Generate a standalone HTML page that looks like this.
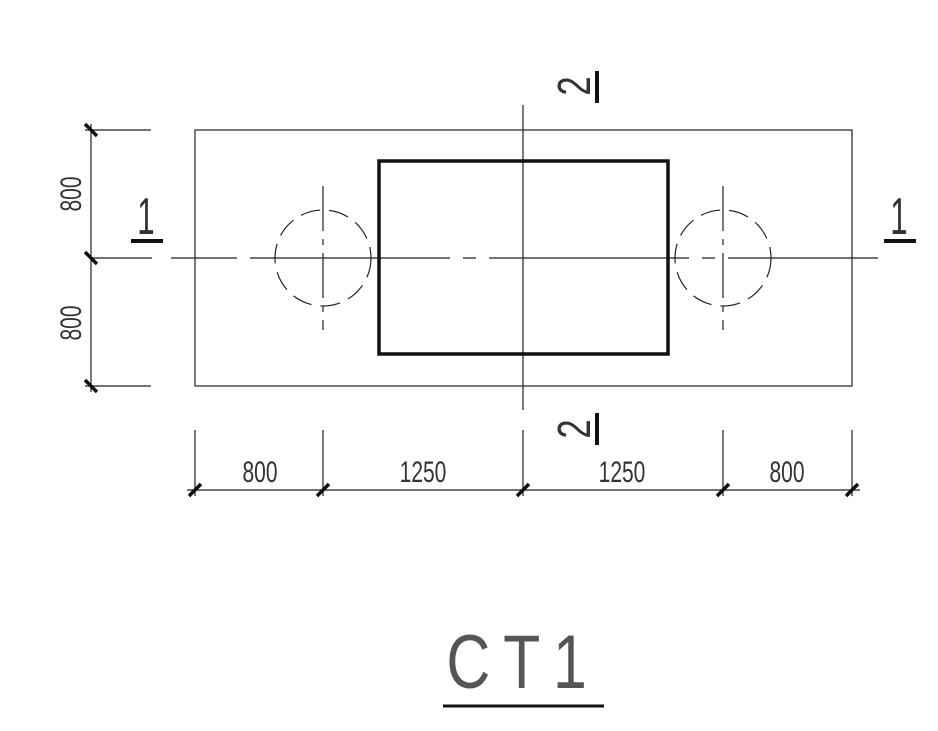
<!DOCTYPE html>
<html><head><style>html,body{margin:0;padding:0;background:#fff}svg{display:block}
text{font-family:"Liberation Sans",sans-serif;fill:#333}</style></head><body>
<svg width="938" height="731" viewBox="0 0 938 731" xmlns="http://www.w3.org/2000/svg">
<g stroke="#222" fill="none" stroke-width="1.2">
<rect x="195" y="130" width="657" height="256"/>
<line x1="523" y1="105" x2="523" y2="410"/>
<line x1="91" y1="258" x2="152" y2="258"/>
<line x1="171" y1="258" x2="237" y2="258"/>
<line x1="250" y1="258" x2="878" y2="258" stroke-dasharray="200 13 13 13"/>
<circle cx="323" cy="258" r="48" stroke-dasharray="20 9"/>
<circle cx="723" cy="258" r="48" stroke-dasharray="20 9"/>
<line x1="323" y1="186" x2="323" y2="330" stroke-dasharray="45 8 6 8"/>
<line x1="723" y1="186" x2="723" y2="330" stroke-dasharray="45 8 6 8"/>
<line x1="91" y1="124" x2="91" y2="392"/>
<line x1="85" y1="130" x2="151" y2="130"/>
<line x1="85" y1="386" x2="151" y2="386"/>
<line x1="187" y1="490" x2="860" y2="490"/>
<line x1="195" y1="430" x2="195" y2="496"/>
<line x1="323" y1="430" x2="323" y2="496"/>
<line x1="523" y1="430" x2="523" y2="496"/>
<line x1="723" y1="430" x2="723" y2="496"/>
<line x1="852" y1="430" x2="852" y2="496"/>
</g>
<rect x="379" y="161" width="289" height="193" fill="none" stroke="#111" stroke-width="3.5"/>
<g stroke="#111" stroke-width="3.5">
<line x1="85" y1="124" x2="97" y2="136"/>
<line x1="85" y1="252" x2="97" y2="264"/>
<line x1="85" y1="380" x2="97" y2="392"/>
<line x1="189" y1="496" x2="201" y2="484"/>
<line x1="317" y1="496" x2="329" y2="484"/>
<line x1="517" y1="496" x2="529" y2="484"/>
<line x1="717" y1="496" x2="729" y2="484"/>
<line x1="846" y1="496" x2="858" y2="484"/>
<line x1="131" y1="241" x2="163" y2="241" stroke-width="4"/>
<line x1="884" y1="241" x2="916" y2="241" stroke-width="4"/>
<line x1="597" y1="71" x2="597" y2="103" stroke-width="4"/>
<line x1="597" y1="413" x2="597" y2="445" stroke-width="4"/>
<line x1="443" y1="706" x2="604" y2="706" stroke-width="3"/>
</g>
<g font-size="30">
<text x="260" y="482" text-anchor="middle" transform="translate(260 0) scale(0.7 1) translate(-260 0)">800</text>
<text x="423" y="482" text-anchor="middle" transform="translate(423 0) scale(0.7 1) translate(-423 0)">1250</text>
<text x="622" y="482" text-anchor="middle" transform="translate(622 0) scale(0.7 1) translate(-622 0)">1250</text>
<text x="787" y="482" text-anchor="middle" transform="translate(787 0) scale(0.7 1) translate(-787 0)">800</text>
<text transform="translate(81 194) rotate(-90) scale(0.7 1)" text-anchor="middle">800</text>
<text transform="translate(81 323) rotate(-90) scale(0.7 1)" text-anchor="middle">800</text>
</g>
<g font-size="52">
<text x="146" y="234" text-anchor="middle" transform="translate(146 0) scale(0.6 1) translate(-146 0)">1</text>
<text x="899" y="234" text-anchor="middle" transform="translate(899 0) scale(0.6 1) translate(-899 0)">1</text>
</g>
<g font-size="46">
<text transform="translate(590 86) rotate(-90) scale(0.75 1)" text-anchor="middle">2</text>
<text transform="translate(590 429) rotate(-90) scale(0.75 1)" text-anchor="middle">2</text>
</g>
<text x="523" y="688" font-size="76" text-anchor="middle" letter-spacing="16" fill="#555" transform="translate(523 0) scale(0.8 1) translate(-523 0)" style="fill:#555">CT1</text>
</svg>
</body></html>
